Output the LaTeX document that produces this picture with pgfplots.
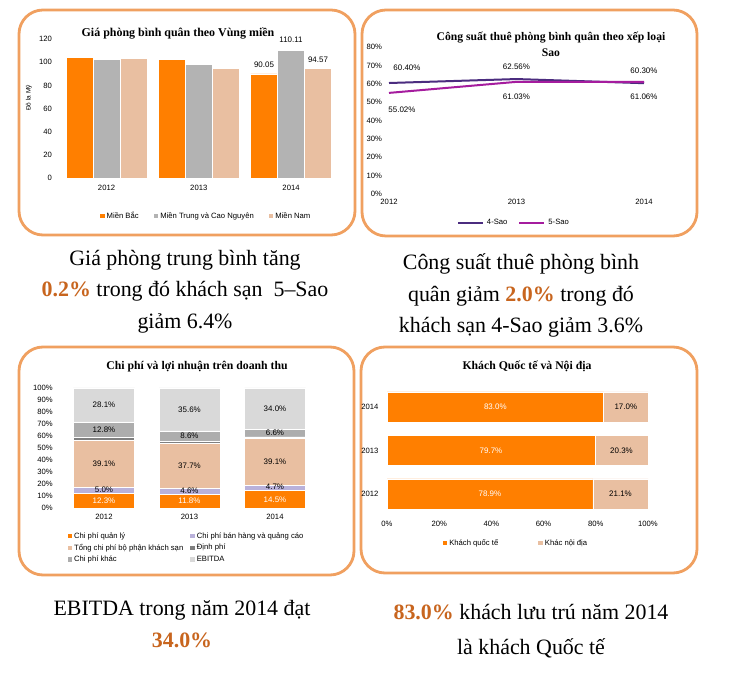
\documentclass[border=0pt]{standalone}
\usepackage{fontspec}
\setmainfont{Liberation Serif}
\newfontfamily\arial{Liberation Sans}
\usepackage{pgfplots}
\pgfplotsset{compat=1.18}

\definecolor{bord}{HTML}{F0A060}
\definecolor{hl}{HTML}{C8651E}
\definecolor{mbac}{HTML}{FF7F00}
\definecolor{mtrung}{HTML}{B3B3B3}
\definecolor{mnam}{HTML}{E9BFA1}
\definecolor{sao4}{HTML}{4B2C7F}
\definecolor{sao5}{HTML}{A51C9E}
\definecolor{lav}{HTML}{B9B1DA}
\definecolor{dinh}{HTML}{7F7F7F}
\definecolor{khac}{HTML}{ADADAD}
\definecolor{ebit}{HTML}{D9D9D9}

\newcommand\sm{\arial\fontsize{7.7}{9}\selectfont}
\newcommand\lb{\arial\fontsize{8}{9}\selectfont}
\newcommand\capf{\fontsize{22}{26}\selectfont}
\newcommand\hi[1]{\textcolor{hl}{\textbf{#1}}}

\tikzset{lbl/.style={font=\lb, inner sep=0pt}}
\pgfplotsset{
  plain/.style={
    scale only axis, anchor=south west, clip=false,
    axis line style={draw=none}, major tick length=0pt, tick style={draw=none},
    ticklabel style={font=\sm},
    /pgf/number format/assume math mode=true,
    legend style={draw=none, fill=none, font=\sm,
      /tikz/every even column/.append style={column sep=9bp}},
    legend cell align=left,
  },
  sq/.style={draw=white, line width=0.4bp,
    legend image code/.code={\fill[##1,draw=none] (0bp,-2.3bp) rectangle (4.6bp,2.3bp);}},
}

\begin{document}
\begin{tikzpicture}
\useasboundingbox (0,0) rectangle (740bp,688bp);
\fill[white] (0,0) rectangle (740bp,688bp);

% boxes
\draw[bord, line width=2.8bp, rounded corners=24bp] (19bp,678bp) rectangle (355bp,453bp);
\draw[bord, line width=2.8bp, rounded corners=24bp] (362bp,678bp) rectangle (697bp,452bp);
\draw[bord, line width=2.8bp, rounded corners=24bp] (19bp,341bp) rectangle (354bp,113bp);
\draw[bord, line width=2.8bp, rounded corners=24bp] (361bp,341bp) rectangle (697bp,115bp);

% chart 1
\node[font=\bfseries\fontsize{12}{14}\selectfont] at (178bp,655bp) {Giá phòng bình quân theo Vùng miền};
\begin{axis}[plain, at={(60.4bp,509.7bp)}, width=276.75bp, height=139.3bp,
  ybar=0pt, bar width=27bp, xmin=-0.5, xmax=2.5, ymin=0, ymax=120,
  ytick={0,20,...,120}, xtick={0,1,2}, xticklabels={2012,2013,2014},
  yticklabel style={xshift=-5bp}, xticklabel style={yshift=-3bp},
  ylabel={Đô la Mỹ}, ylabel style={font=\arial\fontsize{6.5}{7}\selectfont, at={(-0.09,0.576)}},
  legend columns=3, legend style={at={(0.527,-0.27)}, anchor=center,
    /tikz/every even column/.append style={column sep=13bp}}]
\addplot[sq, fill=mbac] coordinates {(0,104.2) (1,102.4) (2,90.05)};
\addplot[sq, fill=mtrung] coordinates {(0,102.3) (1,98.3) (2,110.11)};
\addplot[sq, fill=mnam] coordinates {(0,103.3) (1,94.6) (2,94.57)};
\legend{Miền Bắc, Miền Trung và Cao Nguyên, Miền Nam}
\node[lbl, anchor=south, xshift=-27bp, yshift=6bp] at (axis cs:2,90.05) {90.05};
\node[lbl, anchor=south, yshift=8bp] at (axis cs:2,110.11) {110.11};
\node[lbl, anchor=south, xshift=27bp, yshift=6bp] at (axis cs:2,94.57) {94.57};
\end{axis}

% chart 2
\node[font=\bfseries\fontsize{11.7}{16}\selectfont, align=center] at (551bp,644bp) {Công suất thuê phòng bình quân theo xếp loại\\Sao};
\begin{axis}[plain, at={(389bp,494bp)}, width=255bp, height=147bp,
  xmin=2012, xmax=2014, ymin=0, ymax=80,
  ytick={0,10,...,80}, yticklabel={\pgfmathprintnumber{\tick}\%},
  xtick={2012,2013,2014}, xticklabels={2012,2013,2014},
  yticklabel style={xshift=-3.5bp}, xticklabel style={yshift=-2bp},
  legend columns=2, legend style={at={(0.49,-0.195)}, anchor=center,
    /tikz/every odd column/.append style={column sep=1bp}},
  legend image code/.code={\draw[#1] (0bp,0bp) -- (25bp,0bp);}]
\addplot[sao4, line width=2bp] coordinates {(2012,60.40) (2013,62.56) (2014,60.30)};
\addplot[sao5, line width=2bp] coordinates {(2012,55.02) (2013,61.03) (2014,61.06)};
\legend{4-Sao, 5-Sao}
\node[lbl, xshift=18bp, yshift=15bp] at (axis cs:2012,60.40) {60.40\%};
\node[lbl, yshift=12bp] at (axis cs:2013,62.56) {62.56\%};
\node[lbl, yshift=12bp] at (axis cs:2014,60.30) {60.30\%};
\node[lbl, xshift=13bp, yshift=-17bp] at (axis cs:2012,55.02) {55.02\%};
\node[lbl, yshift=-15bp] at (axis cs:2013,61.03) {61.03\%};
\node[lbl, yshift=-15bp] at (axis cs:2014,61.06) {61.06\%};
\end{axis}

% chart 3
\node[font=\bfseries\fontsize{11.8}{14}\selectfont] at (197bp,321bp) {Chi phí và lợi nhuận trên doanh thu};
\begin{axis}[plain, at={(61.25bp,180bp)}, width=256.5bp, height=120bp,
  ybar stacked, reverse stacked plots=false, bar width=61bp, xmin=-0.5, xmax=2.5, ymin=0, ymax=100,
  ytick={0,10,...,100}, yticklabel={\pgfmathprintnumber{\tick}\%},
  xtick={0,1,2}, xticklabels={2012,2013,2014},
  yticklabel style={xshift=-5bp}, xticklabel style={yshift=-3bp},
  legend columns=2, legend style={at={(0.012,-0.17)}, anchor=north west,
    /tikz/every even column/.append style={column sep=5bp}, row sep=0.3bp}]
\addplot[sq, fill=mbac] coordinates {(0,12.3) (1,11.8) (2,14.5)};
\addplot[sq, fill=lav] coordinates {(0,5.0) (1,4.6) (2,4.7)};
\addplot[sq, fill=mnam] coordinates {(0,39.1) (1,37.7) (2,39.1)};
\addplot[sq, fill=dinh] coordinates {(0,2.7) (1,1.7) (2,1.1)};
\addplot[sq, fill=khac] coordinates {(0,12.8) (1,8.6) (2,6.6)};
\addplot[sq, fill=ebit] coordinates {(0,28.1) (1,35.6) (2,34.0)};
\legend{Chi phí quản lý, Chi phí bán hàng và quảng cáo, Tổng chi phí bộ phận khách sạn, Định phí, Chi phí khác, EBITDA}
\node[lbl, text=white] at (axis cs:0,6.15) {12.3\%};
\node[lbl] at (axis cs:0,15.3) {5.0\%};
\node[lbl] at (axis cs:0,36.85) {39.1\%};
\node[lbl] at (axis cs:0,65.5) {12.8\%};
\node[lbl] at (axis cs:0,85.95) {28.1\%};
\node[lbl, text=white] at (axis cs:1,5.9) {11.8\%};
\node[lbl] at (axis cs:1,14.6) {4.6\%};
\node[lbl] at (axis cs:1,35.25) {37.7\%};
\node[lbl] at (axis cs:1,60.1) {8.6\%};
\node[lbl] at (axis cs:1,82.2) {35.6\%};
\node[lbl, text=white] at (axis cs:2,7.25) {14.5\%};
\node[lbl] at (axis cs:2,17.3) {4.7\%};
\node[lbl] at (axis cs:2,38.75) {39.1\%};
\node[lbl] at (axis cs:2,62.7) {6.6\%};
\node[lbl] at (axis cs:2,83) {34.0\%};
\end{axis}

% chart 4
\node[font=\bfseries\fontsize{11.8}{14}\selectfont] at (527bp,322bp) {Khách Quốc tế và Nội địa};
\begin{axis}[plain, at={(387bp,172.25bp)}, width=261bp, height=130.5bp,
  xbar stacked, reverse stacked plots=false, bar width=30bp, ymin=-0.5, ymax=2.5, xmin=0, xmax=100,
  xtick={0,20,...,100}, xticklabel={\pgfmathprintnumber{\tick}\%},
  ytick={0,1,2}, yticklabels={2012,2013,2014},
  yticklabel style={xshift=-5bp}, xticklabel style={yshift=-2bp},
  legend columns=2, legend style={at={(0.494,-0.209)}, anchor=center,
    /tikz/every even column/.append style={column sep=38bp}}]
\addplot[sq, fill=mbac] coordinates {(78.9,0) (79.7,1) (83.0,2)};
\addplot[sq, fill=mnam] coordinates {(21.1,0) (20.3,1) (17.0,2)};
\legend{Khách quốc tế, Khác nội địa}
\node[lbl, text=white] at (axis cs:39.45,0) {78.9\%};
\node[lbl, text=white] at (axis cs:39.85,1) {79.7\%};
\node[lbl, text=white] at (axis cs:41.5,2) {83.0\%};
\node[lbl] at (axis cs:89.45,0) {21.1\%};
\node[lbl] at (axis cs:89.85,1) {20.3\%};
\node[lbl] at (axis cs:91.5,2) {17.0\%};
\end{axis}

% captions
\node[font=\capf, anchor=base] at (185bp,422bp) {Giá phòng trung bình tăng};
\node[font=\capf, anchor=base] at (185bp,391bp) {\hi{0.2\%} trong đó khách sạn~~5–Sao};
\node[font=\capf, anchor=base] at (185bp,359bp) {giảm 6.4\%};
\node[font=\capf, anchor=base] at (521bp,418bp) {Công suất thuê phòng bình};
\node[font=\capf, anchor=base] at (521bp,386bp) {quân giảm \hi{2.0\%} trong đó};
\node[font=\capf, anchor=base] at (521bp,355bp) {khách sạn 4-Sao giảm 3.6\%};
\node[font=\capf, anchor=base] at (182bp,72bp) {EBITDA trong năm 2014 đạt};
\node[font=\capf, anchor=base] at (182bp,40bp) {\hi{34.0\%}};
\node[font=\capf, anchor=base] at (531bp,68bp) {\hi{83.0\%} khách lưu trú năm 2014};
\node[font=\capf, anchor=base] at (531bp,34bp) {là khách Quốc tế};
\end{tikzpicture}
\end{document}
